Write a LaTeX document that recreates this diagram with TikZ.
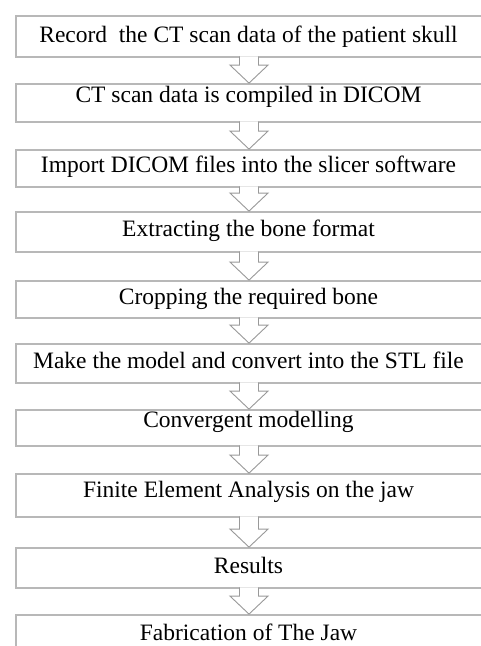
\documentclass[tikz,border=0pt]{standalone}
\usepackage{fontspec}
\setmainfont{Liberation Serif}
\usetikzlibrary{calc}

\tikzset{
  stepbox/.style={draw=black!28, line width=1.8pt, fill=white,
    minimum width=466pt, inner sep=0pt},
  steptext/.style={anchor=base, inner sep=0pt, font=\fontsize{23.5}{28}\selectfont},
  flowarrow/.style={draw=black!40, line width=0.9pt, fill=white, line join=miter},
}

% hollow block arrow from the bottom of one box to the top of the next
\newcommand\blockarrow[2]{%
  \filldraw[flowarrow] let \p1=(#1.south), \p2=(#2.north) in
    (\x1-9.5pt,\y1+1.5pt) -- (\x1-9.5pt,\y2+18pt) -- (\x1-19pt,\y2+18pt)
    -- (\x1,\y2) -- (\x1+19pt,\y2+18pt) -- (\x1+9.5pt,\y2+18pt)
    -- (\x1+9.5pt,\y1+1.5pt);}

\begin{document}
\begin{tikzpicture}[x=1pt,y=-1pt]
\useasboundingbox[fill=white] (0,0) rectangle (481,646);

% boxes of the process chain
\node[stepbox, minimum height=41pt] (b1)  at (249,36.5)  {};
\node[stepbox, minimum height=38pt] (b2)  at (249,103)   {};
\node[stepbox, minimum height=37pt] (b3)  at (249,168.5) {};
\node[stepbox, minimum height=40pt] (b4)  at (249,232)   {};
\node[stepbox, minimum height=37pt] (b5)  at (249,299.5) {};
\node[stepbox, minimum height=39pt] (b6)  at (249,363.5) {};
\node[stepbox, minimum height=36pt] (b7)  at (249,428)   {};
\node[stepbox, minimum height=43pt] (b8)  at (249,495.5) {};
\node[stepbox, minimum height=40pt] (b9)  at (249,568)   {};
\node[stepbox, minimum height=45pt] (b10) at (249,637.5) {};

% step labels
\node[steptext] (t1)  at (248.5,42)  {Record\ \ the CT scan data of the patient skull};
\node[steptext] (t2)  at (248.5,102) {CT scan data is compiled in DICOM};
\node[steptext] (t3)  at (248.5,172) {Import DICOM files into the slicer software};
\node[steptext] (t4)  at (248.5,236) {Extracting the bone format};
\node[steptext] (t5)  at (248.5,304) {Cropping the required bone};
\node[steptext] (t6)  at (248.5,368) {Make the model and convert into the STL file};
\node[steptext] (t7)  at (248.5,427) {Convergent modelling};
\node[steptext] (t8)  at (248.5,497) {Finite Element Analysis on the jaw};
\node[steptext] (t9)  at (248.5,573) {Results};
\node[steptext] (t10) at (248.5,640) {Fabrication of The Jaw};

% connectors
\blockarrow{b1}{b2}
\blockarrow{b2}{b3}
\blockarrow{b3}{b4}
\blockarrow{b4}{b5}
\blockarrow{b5}{b6}
\blockarrow{b6}{b7}
\blockarrow{b7}{b8}
\blockarrow{b8}{b9}
\blockarrow{b9}{b10}
\end{tikzpicture}
\end{document}
